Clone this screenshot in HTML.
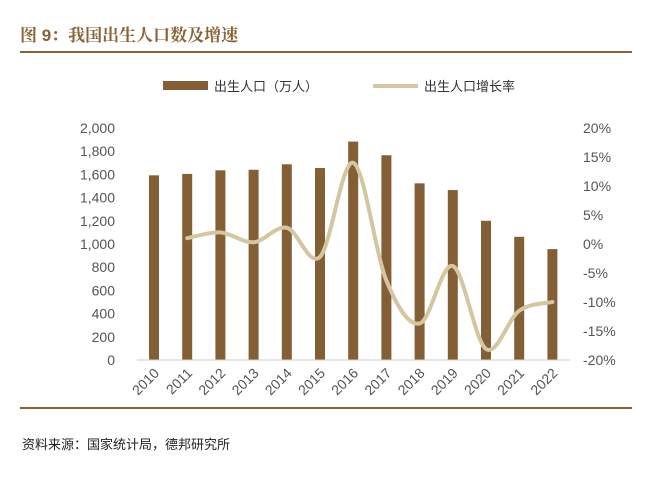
<!DOCTYPE html>
<html><head><meta charset="utf-8"><style>
body{margin:0;background:#fff;width:651px;height:486px;overflow:hidden;font-family:"Liberation Sans","Noto Sans CJK SC",sans-serif}
</style></head><body>
<svg width="651" height="486">
<text x="20" y="41" font-size="17" font-weight="bold" fill="#8a6234" font-family="Liberation Sans,Noto Serif CJK SC,Noto Sans CJK SC,sans-serif">图 9：我国出生人口数及增速</text>
<line x1="20" y1="52" x2="632" y2="52" stroke="#8a6234" stroke-width="2"/>
<g>
<rect x="163" y="81" width="45" height="9" fill="#845f35"/>
<text x="214" y="91" font-size="13" fill="#333">出生人口（万人）</text>
<line x1="373" y1="86" x2="418" y2="86" stroke="#d5c6a2" stroke-width="4"/>
<text x="424" y="91" font-size="13" fill="#333">出生人口增长率</text>
</g>
<g id="plot"></g>
<line x1="20" y1="408" x2="632" y2="408" stroke="#8a6234" stroke-width="2"/>
<text x="22" y="449" font-size="13" fill="#222">资料来源：国家统计局，德邦研究所</text>
</svg>
<script>
const years=['2010','2011','2012','2013','2014','2015','2016','2017','2018','2019','2020','2021','2022'];
const births=[1592,1604,1635,1640,1687,1655,1883,1765,1523,1465,1200,1062,956];
const growth=[null,1.0,2.0,0.3,2.8,-2.2,14.0,-6.3,-13.7,-3.8,-18.1,-11.5,-10.0];
const leftTicks=[0,200,400,600,800,1000,1200,1400,1600,1800,2000];
const rightTicks=[-20,-15,-10,-5,0,5,10,15,20];
const NS='http://www.w3.org/2000/svg';
const g=document.getElementById('plot');
const x0=154,dx=33.2,yB=360,yT=128;
const xs=i=>x0+i*dx;
const yL=v=>yB-(v/2000)*(yB-yT);
const yR=v=>yB-((v+20)/40)*(yB-yT);
function mk(t,a){const e=document.createElementNS(NS,t);for(const k in a)e.setAttribute(k,a[k]);g.appendChild(e);return e;}
leftTicks.forEach(v=>{const t=mk('text',{x:115,y:yL(v)+5,'text-anchor':'end','font-size':14,fill:'#555'});t.textContent=v.toLocaleString('en-US');

});
rightTicks.forEach(v=>{const t=mk('text',{x:583,y:yR(v)+5,'font-size':14,fill:'#555'});t.textContent=v+'%';

});
births.forEach((v,i)=>{const r=mk('rect',{x:xs(i)-5,y:yL(v),width:10,height:yB-yL(v),fill:'#845f35'});

});
const ax=mk('line',{x1:137,y1:yB,x2:570,y2:yB,stroke:'#ccc','stroke-width':1});


years.forEach((y,i)=>{const t=mk('text',{x:xs(i)+6,y:yB+14,'text-anchor':'end','font-size':14,fill:'#555',transform:`rotate(-45 ${xs(i)+6} ${yB+14})`});t.textContent=y;

});
const pts=[];growth.forEach((v,i)=>{if(v!==null)pts.push([xs(i),yR(v)]);});
let d='M'+pts[0][0]+','+pts[0][1];
for(let i=0;i<pts.length-1;i++){const p0=pts[i-1]||pts[i],p1=pts[i],p2=pts[i+1],p3=pts[i+2]||p2;
d+=` C${p1[0]+(p2[0]-p0[0])/6},${p1[1]+(p2[1]-p0[1])/6} ${p2[0]-(p3[0]-p1[0])/6},${p2[1]-(p3[1]-p1[1])/6} ${p2[0]},${p2[1]}`;}
const ln=mk('path',{d:d,fill:'none',stroke:'#d5c6a2','stroke-width':4,'stroke-linecap':'round'});


</script>
</body></html>
